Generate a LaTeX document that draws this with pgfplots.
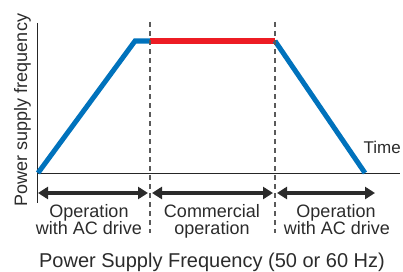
\documentclass[border=0pt]{standalone}
\usepackage{pgfplots}
\pgfplotsset{compat=1.18}
\usetikzlibrary{arrows.meta}
\usepackage{fontspec}
\setmainfont{Liberation Sans}
\definecolor{drvblue}{HTML}{0072BC}
\definecolor{comred}{HTML}{ED1C24}
\definecolor{txt}{HTML}{2B2B2B}
\definecolor{dashgray}{HTML}{5A5A5A}
\begin{document}
\begin{tikzpicture}
\clip (0,0) rectangle (403pt,271pt);
\begin{axis}[
  at={(0,0)}, anchor=south west,
  scale only axis, width=403pt, height=271pt,
  xmin=0, xmax=403, ymin=0, ymax=271,
  hide axis, clip=false,
]
% axes
\addplot[no marks, black!85, line width=0.9pt] coordinates {(37,248) (37,68)};
\addplot[no marks, black!85, line width=0.9pt] coordinates {(37,98) (400,98)};
% frequency profile
\addplot[no marks, drvblue, line width=5pt, line join=miter] coordinates {(38,98) (135,230) (151,230)};
\addplot[no marks, comred, line width=5pt] coordinates {(150,230) (275,230)};
\addplot[no marks, drvblue, line width=5pt, line join=miter] coordinates {(275,230) (365,98)};
% dashed separators
\addplot[no marks, dashgray, line width=1.2pt, dash pattern=on 5pt off 4pt] coordinates {(150,249) (150,38)};
\addplot[no marks, dashgray, line width=1.2pt, dash pattern=on 5pt off 4pt] coordinates {(275,249) (275,38)};
% range arrows
\addplot[no marks, txt, line width=3.5pt, {Triangle[length=10pt,width=12pt]}-{Triangle[length=10pt,width=12pt]}] coordinates {(38,78) (148,78)};
\addplot[no marks, txt, line width=3.5pt, {Triangle[length=10pt,width=12pt]}-{Triangle[length=10pt,width=12pt]}] coordinates {(152,78) (273,78)};
\addplot[no marks, txt, line width=3.5pt, {Triangle[length=10pt,width=12pt]}-{Triangle[length=10pt,width=12pt]}] coordinates {(277,78) (375,78)};
% texts
\begin{scope}[every node/.style={text=txt, inner sep=0pt, anchor=base, font=\fontsize{18}{18}\selectfont}]
\node at (axis cs:89,54) {Operation};
\node at (axis cs:89,37) {with AC drive};
\node at (axis cs:212,54) {Commercial};
\node at (axis cs:212,37) {operation};
\node at (axis cs:336,54) {Operation};
\node at (axis cs:337,37) {with AC drive};
\node[anchor=base east, font=\fontsize{17}{17}\selectfont] at (axis cs:401,118) {Time};
\node[rotate=90] at (axis cs:27,161) {Power supply frequency};
\node[font=\fontsize{20}{20}\selectfont] at (axis cs:212,4) {Power Supply Frequency (50 or 60 Hz)};
\end{scope}
\end{axis}
\end{tikzpicture}
\end{document}
